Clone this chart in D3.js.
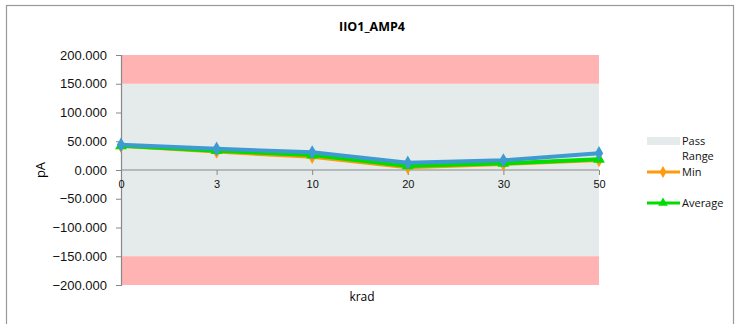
<!DOCTYPE html>
<html>
<head>
<meta charset="utf-8">
<script src="https://cdn.jsdelivr.net/npm/d3@7"></script>
<style>
  body { margin: 0; background: #fff; }
  svg { font-family: "Open Sans", "Liberation Sans", sans-serif; }
</style>
</head>
<body>
<div id="chart"></div>
<script>
// chart values
const categories = ["0", "3", "10", "20", "30", "50"];
const minValues = [42, 32, 23, 4.7, 10.4, 17.4];
const avgValues = [42, 33.6, 26, 7, 11.6, 18.6];
const maxValues = [44, 37, 30.7, 12.7, 16.8, 29];
const yTicks = [200, 150, 100, 50, 0, -50, -100, -150, -200];
const passRange = [-150, 150];
const failRanges = [[150, 200], [-200, -150]];

const width = 740, height = 324;
const margin = { top: 55, right: 141, bottom: 39, left: 121 };

const svg = d3.select("#chart").append("svg")
    .attr("width", width)
    .attr("height", height);

// outer chart frame
svg.append("rect")
    .attr("x", 6.5).attr("y", 5.5)
    .attr("width", 727).attr("height", 330)
    .attr("fill", "none")
    .attr("stroke", "#999")
    .attr("stroke-width", 1.2);

const x = d3.scalePoint()
    .domain(categories)
    .range([margin.left, width - margin.right]);

const y = d3.scaleLinear()
    .domain([-200, 200])
    .range([height - margin.bottom, margin.top]);

const plotX0 = margin.left, plotX1 = width - margin.right;

// background bands
svg.append("rect")
    .attr("x", plotX0).attr("width", plotX1 - plotX0)
    .attr("y", y(passRange[1])).attr("height", y(passRange[0]) - y(passRange[1]))
    .attr("fill", "#e5ebeb");

svg.selectAll(".fail")
    .data(failRanges)
    .enter().append("rect")
    .attr("class", "fail")
    .attr("x", plotX0).attr("width", plotX1 - plotX0)
    .attr("y", d => y(d[1]))
    .attr("height", d => y(d[0]) - y(d[1]))
    .attr("fill", "#ffb3b3");

// y axis
const yAxis = svg.append("g")
    .attr("transform", `translate(${plotX0},0)`)
    .call(d3.axisLeft(y).tickValues(yTicks).tickFormat(d3.format(".3f")).tickSize(5).tickPadding(9));
yAxis.select(".domain").attr("stroke", "#888").attr("stroke-width", 1.2);
yAxis.selectAll(".tick line").attr("stroke", "#888");
yAxis.selectAll("text").attr("font-size", 13).attr("fill", "#111");

// x axis at zero
const xAxis = svg.append("g")
    .attr("transform", `translate(0,${y(0)})`)
    .call(d3.axisBottom(x).tickSize(5).tickSizeOuter(0).tickPadding(5));
xAxis.select(".domain").attr("stroke", "#888").attr("stroke-width", 1.2)
    .attr("d", `M${plotX0},0H${plotX1}`);
xAxis.selectAll(".tick line").attr("stroke", "#888");
xAxis.selectAll("text").attr("font-size", 11).attr("fill", "#111");

// titles
svg.append("text")
    .attr("x", 372).attr("y", 31)
    .attr("text-anchor", "middle")
    .attr("font-size", 12.5).attr("font-weight", "bold")
    .text("IIO1_AMP4");

svg.append("text")
    .attr("transform", `translate(45,${y(0)}) rotate(-90)`)
    .attr("text-anchor", "middle")
    .attr("font-size", 13)
    .text("pA");

svg.append("text")
    .attr("x", 362).attr("y", 301)
    .attr("text-anchor", "middle")
    .attr("font-size", 12)
    .text("krad");

// series
const series = [
    { name: "Min", values: minValues, color: "#ff9a0d", marker: d3.symbolDiamond },
    { name: "Average", values: avgValues, color: "#00dd00", marker: d3.symbolTriangle },
    { name: "Max", values: maxValues, color: "#3d9bd1", marker: d3.symbolDiamond }
];

const line = d3.line()
    .x((d, i) => x(categories[i]))
    .y(d => y(d));

series.forEach(s => {
    const g = svg.append("g");
    g.append("path")
        .datum(s.values)
        .attr("fill", "none")
        .attr("stroke", s.color)
        .attr("stroke-width", 4)
        .attr("stroke-linejoin", "round")
        .attr("d", line);
    g.selectAll("path.m")
        .data(s.values)
        .enter().append("path")
        .attr("class", "m")
        .attr("transform", (d, i) => `translate(${x(categories[i])},${y(d)})`)
        .attr("d", d3.symbol().type(s.marker).size(60))
        .attr("fill", s.color);
});

// legend
const lg = svg.append("g").attr("font-size", 11).attr("fill", "#111");
lg.append("rect")
    .attr("x", 647).attr("y", 137).attr("width", 33).attr("height", 8)
    .attr("fill", "#e5ebeb");
lg.append("text").attr("x", 682).attr("y", 145).text("Pass");
lg.append("text").attr("x", 682).attr("y", 160).text("Range");

const legendItems = [
    { s: series[0], y: 172 },
    { s: series[1], y: 203 }
];
legendItems.forEach(item => {
    lg.append("line")
        .attr("x1", 647).attr("x2", 680)
        .attr("y1", item.y).attr("y2", item.y)
        .attr("stroke", item.s.color).attr("stroke-width", 3);
    lg.append("path")
        .attr("transform", `translate(663,${item.y})`)
        .attr("d", d3.symbol().type(item.s.marker).size(40))
        .attr("fill", item.s.color);
    lg.append("text").attr("x", 682).attr("y", item.y + 4).text(item.s.name);
});
</script>
</body>
</html>
